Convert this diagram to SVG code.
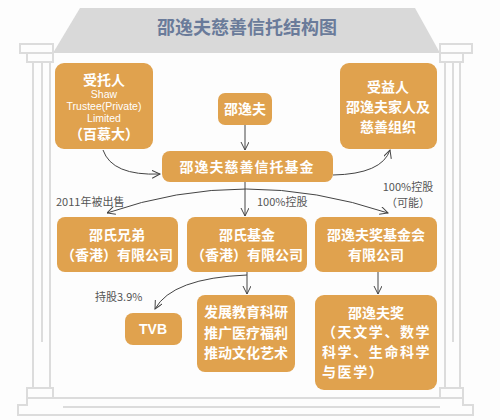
<svg xmlns="http://www.w3.org/2000/svg" width="500" height="420" viewBox="0 0 500 420">
<defs>
<marker id="arr" markerWidth="10" markerHeight="10" refX="8" refY="4" orient="auto" markerUnits="userSpaceOnUse">
<path d="M0,0 L8,4 L0,8" fill="none" stroke="#444" stroke-width="1"/>
</marker>
<marker id="arrs" markerWidth="10" markerHeight="10" refX="0" refY="4" orient="auto" markerUnits="userSpaceOnUse">
<path d="M8,0 L0,4 L8,8" fill="none" stroke="#444" stroke-width="1"/>
</marker>
</defs>
<style>
.frame{fill:none;stroke:#dcdcdc;stroke-width:2}
.box{fill:#e0a24e}
.t{font-family:"Noto Sans CJK SC","Noto Sans",sans-serif;fill:#fff;font-weight:bold;text-anchor:middle;font-size:14px}
.ts{font-family:"Noto Sans CJK SC","Noto Sans",sans-serif;fill:#fff;font-weight:bold;text-anchor:start;font-size:14px;letter-spacing:1.6px}
.e{font-family:"Liberation Sans","Noto Sans",sans-serif;fill:#fff;text-anchor:middle;font-size:10.5px}
.lab{font-family:"Noto Sans CJK SC","Noto Sans",sans-serif;fill:#555;font-size:11px}
.c{fill:none;stroke:#444;stroke-width:1}
</style>
<rect width="500" height="420" fill="#fdfdfd"/>
<g id="temple">
<polygon points="80,8 415,8 440,53 53,53" fill="#d9d9d9"/>
<rect class="frame" x="20" y="44" width="33" height="9"/>
<rect class="frame" x="27" y="53" width="26" height="9"/>
<rect class="frame" x="440" y="44" width="32" height="9"/>
<rect class="frame" x="440" y="53" width="23" height="9"/>
<line class="frame" x1="33" y1="62" x2="33" y2="388"/>
<line class="frame" x1="42" y1="62" x2="42" y2="342"/>
<line class="frame" x1="50" y1="62" x2="50" y2="388"/>
<line class="frame" x1="445" y1="62" x2="445" y2="388"/>
<line class="frame" x1="453" y1="62" x2="453" y2="342"/>
<line class="frame" x1="460" y1="62" x2="460" y2="388"/>
<rect class="frame" x="27" y="388" width="26" height="10"/>
<rect class="frame" x="440" y="388" width="23" height="10"/>
<line class="frame" x1="53" y1="398" x2="440" y2="398"/>
<polyline class="frame" points="27,398 27,405 18,405 18,415 473,415 473,405 463,405 463,398"/>
<line class="frame" x1="63" y1="407" x2="440" y2="407"/>
<text x="247" y="34" font-family="'Noto Sans CJK SC',sans-serif" font-size="18" font-weight="bold" fill="#6a7b9a" text-anchor="middle">邵逸夫慈善信托结构图</text>
</g>
<g id="connectors">
<path class="c" d="M103,150 Q112,176 160,174" marker-end="url(#arr)"/>
<line class="c" x1="245" y1="125" x2="245" y2="150" marker-end="url(#arr)"/>
<path class="c" d="M333,175 Q382,174 390,150" marker-end="url(#arr)"/>
<path class="c" d="M107,213 Q245,165 388,213" marker-start="url(#arrs)" marker-end="url(#arr)"/>
<line class="c" x1="245" y1="182" x2="245" y2="216" marker-end="url(#arr)"/>
<line class="c" x1="247" y1="272" x2="247" y2="294" marker-end="url(#arr)"/>
<path class="c" d="M247,275 Q172,278 155,309" marker-end="url(#arr)"/>
<line class="c" x1="378" y1="272" x2="378" y2="294" marker-end="url(#arr)"/>
<text class="lab" x="56" y="206">2011年被出售</text>
<text class="lab" x="257" y="206">100%控股</text>
<text class="lab" x="408" y="191" text-anchor="middle">100%控股</text>
<text class="lab" x="408" y="207" text-anchor="middle">（可能）</text>
<text class="lab" x="95" y="301">持股3.9%</text>
</g>
<g id="trustee">
<rect class="box" x="55" y="63" width="98" height="86" rx="9"/>
<text class="t" x="104" y="85" font-size="13">受托人</text>
<text class="e" x="104" y="98">Shaw</text>
<text class="e" x="104" y="110">Trustee(Private)</text>
<text class="e" x="104" y="122">Limited</text>
<text class="t" x="104" y="139">（百慕大）</text>
</g>
<g id="shaw">
<rect class="box" x="218" y="93" width="54" height="32" rx="7"/>
<text class="t" x="245" y="114">邵逸夫</text>
</g>
<g id="fund">
<rect class="box" x="162" y="151" width="171" height="31" rx="8"/>
<text class="t" x="247" y="172" font-size="15" letter-spacing="1">邵逸夫慈善信托基金</text>
</g>
<g id="beneficiary">
<rect class="box" x="340" y="63" width="97" height="86" rx="9"/>
<text class="t" x="388" y="92">受益人</text>
<text class="t" x="388" y="112">邵逸夫家人及</text>
<text class="t" x="388" y="132">慈善组织</text>
</g>
<g id="shawbros">
<rect class="box" x="57" y="217" width="121" height="55" rx="8"/>
<text class="t" x="117" y="240">邵氏兄弟</text>
<text class="t" x="117" y="260" font-size="13.5">（香港）有限公司</text>
</g>
<g id="shawfund">
<rect class="box" x="187" y="217" width="120" height="55" rx="8"/>
<text class="t" x="247" y="240">邵氏基金</text>
<text class="t" x="247" y="260" font-size="13.5">（香港）有限公司</text>
</g>
<g id="prizefund">
<rect class="box" x="315" y="217" width="122" height="55" rx="8"/>
<text class="t" x="376" y="240">邵逸夫奖基金会</text>
<text class="t" x="376" y="260">有限公司</text>
</g>
<g id="tvb">
<rect class="box" x="125" y="313" width="57" height="32" rx="8"/>
<text class="t" x="153" y="334" style="font-family:'Liberation Sans',sans-serif">TVB</text>
</g>
<g id="develop">
<rect class="box" x="197" y="295" width="98" height="77" rx="8"/>
<text class="t" x="246" y="317">发展教育科研</text>
<text class="t" x="246" y="338">推广医疗福利</text>
<text class="t" x="246" y="358">推动文化艺术</text>
</g>
<g id="prize">
<rect class="box" x="315" y="295" width="122" height="95" rx="9"/>
<text class="t" x="376" y="318">邵逸夫奖</text>
<text class="ts" x="322" y="337">（天文学、数学</text>
<text class="ts" x="322" y="357">科学、生命科学</text>
<text class="ts" x="322" y="377">与医学）</text>
</g>
</svg>
